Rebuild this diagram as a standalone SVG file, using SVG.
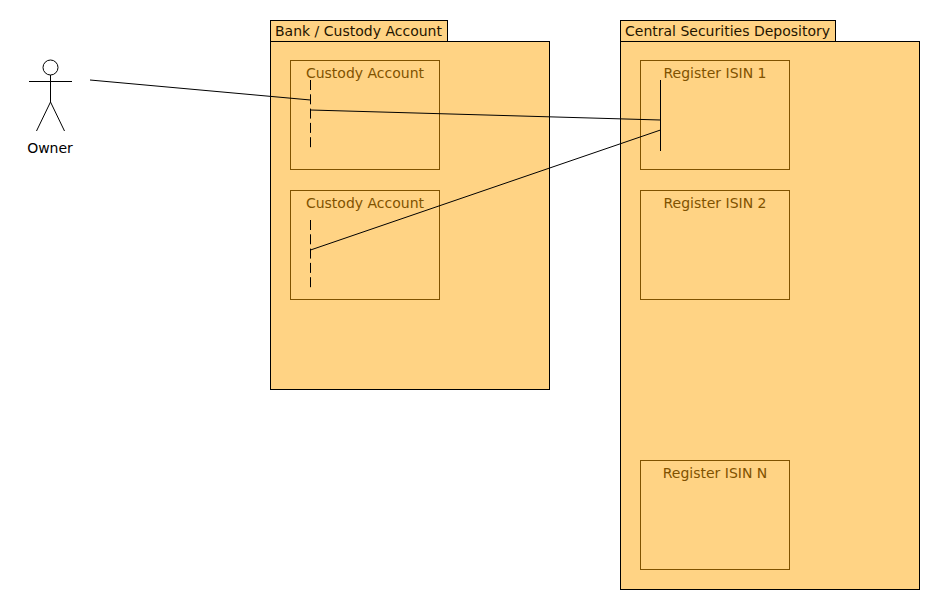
<svg xmlns="http://www.w3.org/2000/svg" width="940" height="610" viewBox="0 0 940 610">
  <style>
    text { font-family: "DejaVu Sans", sans-serif; font-size: 14px; }
    .package { fill: #ffd384; stroke: #000; stroke-width: 1; }
    .package-label { fill: #1f1500; }
    .box { fill: none; stroke: #7f5200; stroke-width: 1; }
    .box-label { fill: #7f5200; text-anchor: middle; }
    .figure { fill: none; stroke: #000; stroke-width: 1; }
    .link { fill: none; stroke: #000; stroke-width: 1; }
    .dashed { stroke-dasharray: 10 4.3; }
  </style>
  <rect width="940" height="610" fill="#fff"/>

  <g id="owner">
    <circle class="figure" cx="50.5" cy="67.5" r="7.5"/>
    <path class="figure" d="M50.5 75V102M29 81.5H72M50.5 102L36.5 131M50.5 102L64.5 131"/>
    <text x="50" y="153" text-anchor="middle">Owner</text>
  </g>

  <g id="bank">
    <rect class="package" x="270.5" y="20.5" width="177" height="21"/>
    <rect class="package" x="270.5" y="41.5" width="279" height="348"/>
    <text class="package-label" x="275" y="36">Bank / Custody Account</text>
  </g>
  <g id="custody-account-1">
    <rect class="box" x="290.5" y="60.5" width="149" height="109"/>
    <text class="box-label" x="365" y="78">Custody Account</text>
  </g>
  <g id="custody-account-2">
    <rect class="box" x="290.5" y="190.5" width="149" height="109"/>
    <text class="box-label" x="365" y="208">Custody Account</text>
  </g>

  <g id="csd">
    <rect class="package" x="620.5" y="20.5" width="215" height="21"/>
    <rect class="package" x="620.5" y="41.5" width="299" height="548"/>
    <text class="package-label" x="625" y="36">Central Securities Depository</text>
  </g>
  <g id="register-1">
    <rect class="box" x="640.5" y="60.5" width="149" height="109"/>
    <text class="box-label" x="715" y="78">Register ISIN 1</text>
  </g>
  <g id="register-2">
    <rect class="box" x="640.5" y="190.5" width="149" height="109"/>
    <text class="box-label" x="715" y="208">Register ISIN 2</text>
  </g>
  <g id="register-n">
    <rect class="box" x="640.5" y="460.5" width="149" height="109"/>
    <text class="box-label" x="715" y="478">Register ISIN N</text>
  </g>

  <g id="connectors">
    <path class="link dashed" d="M310.5 80V151"/>
    <path class="link dashed" d="M310.5 220V291"/>
    <path class="link" d="M660.5 80V151"/>
    <path class="link" d="M90 80L310.5 100"/>
    <path class="link" d="M310.5 110L660.5 120"/>
    <path class="link" d="M310.5 250L660.5 130"/>
  </g>
</svg>
